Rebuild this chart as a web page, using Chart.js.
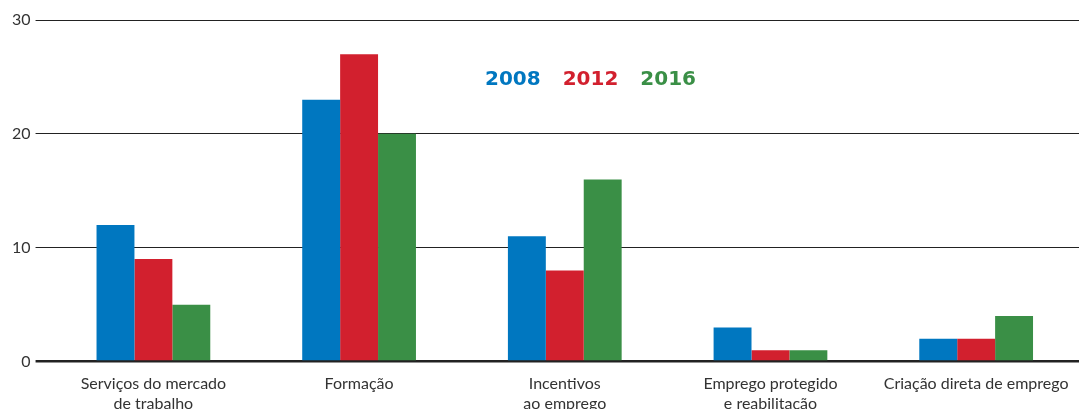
<!DOCTYPE html>
<html>
<head>
<meta charset="utf-8">
<style>
  html, body { margin: 0; padding: 0; background: #fff; overflow: hidden; }
  #wrap { width: 1079px; height: 409px; overflow: hidden; }
</style>
</head>
<body>
<div id="wrap"><canvas id="chart" width="1079" height="418"></canvas></div>
<script src="https://cdn.jsdelivr.net/npm/chart.js"></script>
<script>
  const categories = [
    ['Serviços do mercado', 'de trabalho'],
    'Formação',
    ['Incentivos', 'ao emprego'],
    ['Emprego protegido', 'e reabilitação'],
    'Criação direta de emprego'
  ];
  const years = ['2008', '2012', '2016'];
  const values2008 = [12, 23, 11, 3, 2];
  const values2012 = [9, 27, 8, 1, 2];
  const values2016 = [5, 20, 16, 1, 4];
  const yTicks = [0, 10, 20, 30];
  const colors = ['#0077c0', '#d2202e', '#3a8f46'];

  // year labels drawn as coloured bold text inside the plot
  const yearLegend = {
    id: 'yearLegend',
    afterDraw(chart) {
      const ctx = chart.ctx;
      ctx.save();
      ctx.font = 'bold 20px "DejaVu Sans"';
      ctx.textBaseline = 'alphabetic';
      let x = 485;
      years.forEach((y, i) => {
        ctx.fillStyle = colors[i];
        ctx.fillText(y, x, 85);
        x += ctx.measureText(y).width + 22;
      });
      ctx.restore();
    }
  };

  const ctx = document.getElementById('chart').getContext('2d');
  new Chart(ctx, {
    type: 'bar',
    data: {
      labels: categories,
      datasets: [
        { label: years[0], data: values2008, backgroundColor: colors[0] },
        { label: years[1], data: values2012, backgroundColor: colors[1] },
        { label: years[2], data: values2016, backgroundColor: colors[2] }
      ]
    },
    options: {
      responsive: false,
      animation: false,
      layout: { padding: { left: 7, top: 20, right: 0, bottom: 0 } },
      plugins: { legend: { display: false }, tooltip: { enabled: false } },
      datasets: { bar: { barPercentage: 1, categoryPercentage: 0.553 } },
      scales: {
        x: {
          grid: { display: false },
          border: { display: false },
          ticks: {
            color: '#333',
            font: { family: 'Lato', size: 16 },
            padding: 5,
            maxRotation: 0,
            autoSkip: false
          }
        },
        y: {
          min: 0,
          max: 30,
          afterBuildTicks: (axis) => { axis.ticks = yTicks.map(v => ({ value: v })); },
          border: { display: false },
          grid: {
            color: '#222',
            lineWidth: (c) => c.tick && c.tick.value === 0 ? 2.5 : 1,
            tickLength: 15
          },
          ticks: {
            color: '#333',
            font: { family: 'Lato', size: 16 },
            padding: 5
          }
        }
      }
    },
    plugins: [yearLegend]
  });
</script>
</body>
</html>
